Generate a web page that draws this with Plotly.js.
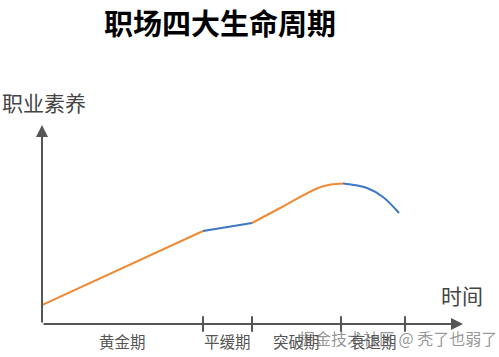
<!DOCTYPE html>
<html>
<head>
<meta charset="utf-8">
<script src="https://cdn.plot.ly/plotly-3.0.1.min.js"></script>
<style>html,body{margin:0;padding:0;background:#fff;}#chart{width:499px;height:357px;}</style>
</head>
<body>
<div id="chart"></div>
<script>
// Period boundaries along the time axis
var boundaries = [0, 161, 210, 299, 363];
var axisEnd = 421;
var yTop = 199;
var periods = ["黄金期", "平缓期", "突破期", "衰退期"];

// Curve segments (time, career competence)
var seg1X = [0, 161];
var seg1Y = [19, 93];
var seg2X = [161, 210];
var seg2Y = [93, 101];
var seg3X = [210, 240, 276, 289, 301];
var seg3Y = [101, 117, 136, 139.5, 140.5];
var seg4X = [301, 325, 341, 357];
var seg4Y = [140.5, 136, 127, 111];

var orange = "#ee8a36";
var blue = "#3d78c0";
var axisColor = "#555555";
var cjk = "Noto Sans CJK SC";

function seg(x, y, color, shape) {
  return {x: x, y: y, mode: "lines", type: "scatter", hoverinfo: "skip",
    line: {color: color, width: 2, shape: shape || "linear", smoothing: 1}};
}

var traces = [
  seg(seg1X, seg1Y, orange),
  seg(seg2X, seg2Y, blue),
  seg(seg3X, seg3Y, orange, "spline"),
  seg(seg4X, seg4Y, blue, "spline"),
  {x: boundaries.slice(1), y: boundaries.slice(1).map(function(){return 0;}),
   mode: "markers", type: "scatter", hoverinfo: "skip", cliponaxis: false,
   marker: {symbol: "line-ns-open", size: 11, color: axisColor, line: {color: axisColor, width: 2}}}
];

function px(v) { return v / axisEnd; }
function py(v) { return v / yTop; }

var annotations = [
  {x: axisEnd, y: 0, ax: 0, ay: 0, axref: "x", ayref: "y", xref: "x", yref: "y",
   text: "", showarrow: true, arrowhead: 2, arrowsize: 1.2, arrowwidth: 2, arrowcolor: axisColor},
  {x: 0, y: yTop, ax: 0, ay: 0, axref: "x", ayref: "y", xref: "x", yref: "y",
   text: "", showarrow: true, arrowhead: 2, arrowsize: 1.2, arrowwidth: 2, arrowcolor: axisColor},
  {x: px(-42), y: py(222), xref: "paper", yref: "paper", xanchor: "left", yanchor: "middle", showarrow: false,
   text: "职业素养", font: {family: cjk, size: 21, color: "#444"}},
  {x: px(420), y: py(29), xref: "paper", yref: "paper", xanchor: "center", yanchor: "middle", showarrow: false,
   text: "时间", font: {family: cjk, size: 21, color: "#444"}}
];
for (var i = 0; i < periods.length; i++) {
  annotations.push({x: px((boundaries[i] + boundaries[i + 1]) / 2), y: py(-17), xref: "paper", yref: "paper",
    xanchor: "center", yanchor: "middle", showarrow: false, text: periods[i],
    font: {family: cjk, size: 15.5, color: "#555"}});
}
annotations.push({x: px(255), y: py(-14), xref: "paper", yref: "paper", xanchor: "left", yanchor: "middle",
  showarrow: false, text: "掘金技术社区 @ 秃了也弱了",
  font: {family: cjk, size: 16, color: "rgba(90,90,90,0.65)"}});

var layout = {
  width: 499, height: 357,
  margin: {l: 42, r: 36, t: 125, b: 33},
  paper_bgcolor: "#fff", plot_bgcolor: "#fff",
  showlegend: false,
  title: {text: "<b>职场四大生命周期</b>", x: 0.441, xanchor: "center", y: 0.93, yanchor: "middle",
    yref: "container", font: {family: cjk, size: 29, color: "#000"}},
  xaxis: {range: [0, axisEnd], showgrid: false, zeroline: false, showline: false,
    showticklabels: false, ticks: "", fixedrange: true},
  yaxis: {range: [0, yTop], showgrid: false, zeroline: false, showline: false,
    showticklabels: false, ticks: "", fixedrange: true},
  annotations: annotations
};

Plotly.newPlot("chart", traces, layout, {displayModeBar: false, staticPlot: true});
</script>
</body>
</html>
